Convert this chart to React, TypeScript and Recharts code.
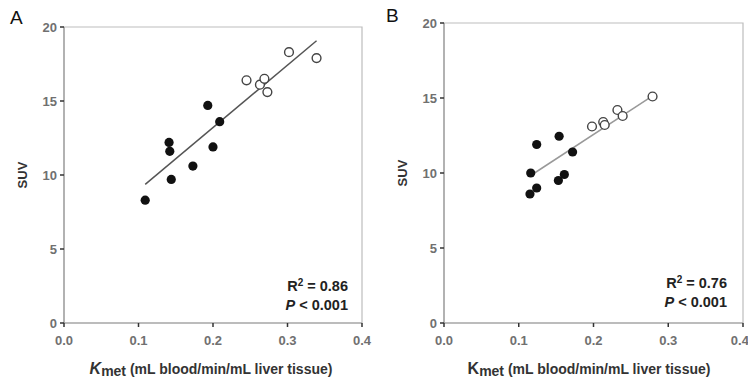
import React from "react";
import {
  ScatterChart,
  Scatter,
  XAxis,
  YAxis,
  ReferenceLine,
  ReferenceArea,
  Label,
} from "recharts";

const FONT = "'Liberation Sans', Arial, sans-serif";

const X_TICKS = [0, 0.1, 0.2, 0.3, 0.4];
const Y_TICKS = [0, 5, 10, 15, 20];

// panel A
const A_FILLED_KMET = [0.109, 0.141, 0.142, 0.144, 0.173, 0.193, 0.2, 0.209];
const A_FILLED_SUV = [8.3, 12.2, 11.6, 9.7, 10.6, 14.7, 11.9, 13.6];
const A_OPEN_KMET = [0.245, 0.263, 0.269, 0.273, 0.302, 0.339];
const A_OPEN_SUV = [16.4, 16.1, 16.5, 15.6, 18.3, 17.9];
const A_FIT = [
  { x: 0.109, y: 9.37 },
  { x: 0.339, y: 19.07 },
];

// panel B
const B_FILLED_KMET = [0.115, 0.124, 0.116, 0.124, 0.153, 0.161, 0.154, 0.172];
const B_FILLED_SUV = [8.6, 9.0, 10.0, 11.9, 9.5, 9.9, 12.45, 11.4];
const B_OPEN_KMET = [0.198, 0.213, 0.215, 0.232, 0.239, 0.279];
const B_OPEN_SUV = [13.1, 13.4, 13.2, 14.2, 13.8, 15.1];
const B_FIT = [
  { x: 0.118, y: 9.9 },
  { x: 0.277, y: 15.07 },
];

const zip = (xs: number[], ys: number[]) => xs.map((x, i) => ({ x, y: ys[i] }));

const FilledDot = (p: any) => <circle cx={p.cx} cy={p.cy} r={4.6} fill="#111" />;
const OpenDot = (p: any) => (
  <circle cx={p.cx} cy={p.cy} r={4.4} fill="#fff" stroke="#444" strokeWidth={1.4} />
);

const XTitle = ({ cx, y, italicK }: { cx: number; y: number; italicK: boolean }) => (
  <text x={cx} y={y} textAnchor="middle" fontFamily={FONT} fontWeight="bold" fontSize={14} fill="#333">
    <tspan fontStyle={italicK ? "italic" : "normal"} fontSize={16}>K</tspan>
    <tspan dy={2}>met</tspan>
    <tspan dy={-2}> (mL blood/min/mL liver tissue)</tspan>
  </text>
);

const YLabel = (props: any) => {
  const vb = props.viewBox;
  const x = vb.x + vb.width - 42;
  const y = vb.y + vb.height / 2;
  return (
    <text
      x={x}
      y={y}
      transform={`rotate(-90 ${x} ${y})`}
      textAnchor="middle"
      dominantBaseline="central"
      fontFamily={FONT}
      fontWeight="bold"
      fontSize={13}
      fill="#333"
    >
      SUV
    </text>
  );
};

interface PanelProps {
  filled: { x: number; y: number }[];
  open: { x: number; y: number }[];
  fit: { x: number; y: number }[];
  fitColor: string;
  margin: { top: number; right: number; left: number; bottom: number };
  yWidth: number;
}

function Panel({ filled, open, fit, fitColor, margin, yWidth }: PanelProps) {
  const tick = { fill: "#707070", fontSize: 13, fontWeight: "bold", fontFamily: FONT };
  return (
    <ScatterChart width={374} height={379} margin={margin}>
      <ReferenceArea x1={0} x2={0.4} y1={0} y2={20} fill="none" stroke="#bdbdbd" strokeWidth={1.2} />
      <XAxis
        type="number"
        dataKey="x"
        domain={[0, 0.4]}
        ticks={X_TICKS}
        tickFormatter={(v: number) => v.toFixed(1)}
        tick={tick}
        tickSize={4}
        tickMargin={9}
        height={56}
        axisLine={{ stroke: "#999", strokeWidth: 1.2 }}
        tickLine={{ stroke: "#333", strokeWidth: 1.5 }}
        allowDataOverflow
      />
      <YAxis
        type="number"
        dataKey="y"
        domain={[0, 20]}
        ticks={Y_TICKS}
        tick={tick}
        tickSize={4}
        tickMargin={3}
        width={yWidth}
        axisLine={{ stroke: "#999", strokeWidth: 1.2 }}
        tickLine={{ stroke: "#333", strokeWidth: 1.5 }}
        allowDataOverflow
      >
        <Label content={<YLabel />} />
      </YAxis>
      <ReferenceLine segment={fit} stroke={fitColor} strokeWidth={1.5} />
      <Scatter data={filled} shape={FilledDot} isAnimationActive={false} />
      <Scatter data={open} shape={OpenDot} isAnimationActive={false} />
    </ScatterChart>
  );
}

const Stats = ({ x, y, r2 }: { x: number; y: number; r2: string }) => (
  <g fontFamily={FONT} fontWeight="bold" fontSize={14.5} fill="#222" textAnchor="end">
    <text x={x} y={y}>
      R<tspan dy={-5} fontSize={10}>2</tspan>
      <tspan dy={5}> = {r2}</tspan>
    </text>
    <text x={x} y={y + 19}>
      <tspan fontStyle="italic">P</tspan> &lt; 0.001
    </text>
  </g>
);

export default function App() {
  return (
    <div style={{ position: "absolute", left: 0, top: 0, width: 748, height: 379, background: "#fff", overflow: "hidden" }}>
      <div style={{ position: "absolute", left: 0, top: 0 }}>
        <Panel
          filled={zip(A_FILLED_KMET, A_FILLED_SUV)}
          open={zip(A_OPEN_KMET, A_OPEN_SUV)}
          fit={A_FIT}
          fitColor="#555"
          margin={{ top: 27, right: 12, left: 0, bottom: 0 }}
          yWidth={64}
        />
      </div>
      <div style={{ position: "absolute", left: 374, top: 0 }}>
        <Panel
          filled={zip(B_FILLED_KMET, B_FILLED_SUV)}
          open={zip(B_OPEN_KMET, B_OPEN_SUV)}
          fit={B_FIT}
          fitColor="#999"
          margin={{ top: 23, right: 5, left: 0, bottom: 0 }}
          yWidth={70}
        />
      </div>
      <svg width={748} height={379} style={{ position: "absolute", left: 0, top: 0, pointerEvents: "none" }}>
        <text x={10} y={24} fontFamily={FONT} fontSize={19} fill="#111">A</text>
        <text x={386} y={22} fontFamily={FONT} fontSize={19} fill="#111">B</text>
        <Stats x={348} y={291} r2="0.86" />
        <Stats x={727} y={288} r2="0.76" />
        <XTitle cx={211} y={374} italicK={true} />
        <XTitle cx={589} y={374} italicK={false} />
      </svg>
    </div>
  );
}
